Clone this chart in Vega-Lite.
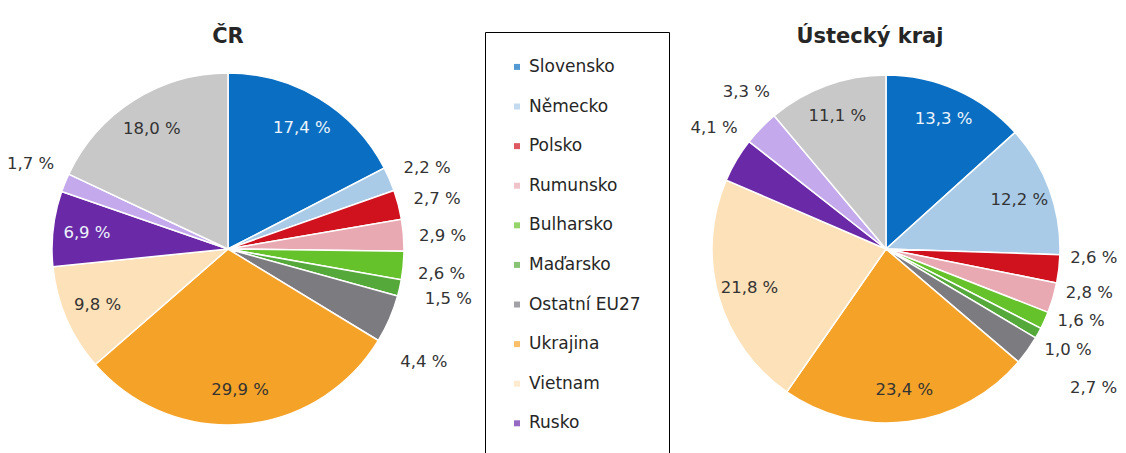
{
  "$schema": "https://vega.github.io/schema/vega-lite/v6.json",
  "background": "white",
  "padding": {"top": 8, "left": 0, "right": 0, "bottom": 0},
  "autosize": {"type": "pad"},
  "config": {"view": {"stroke": null}, "font": "DejaVu Sans"},
  "datasets": {
    "podily": [
      {"region": "ČR", "zeme": "Slovensko", "poradi": 1, "podil": 17.4},
      {"region": "ČR", "zeme": "Německo", "poradi": 2, "podil": 2.2},
      {"region": "ČR", "zeme": "Polsko", "poradi": 3, "podil": 2.7},
      {"region": "ČR", "zeme": "Rumunsko", "poradi": 4, "podil": 2.9},
      {"region": "ČR", "zeme": "Bulharsko", "poradi": 5, "podil": 2.6},
      {"region": "ČR", "zeme": "Maďarsko", "poradi": 6, "podil": 1.5},
      {"region": "ČR", "zeme": "Ostatní EU27", "poradi": 7, "podil": 4.4},
      {"region": "ČR", "zeme": "Ukrajina", "poradi": 8, "podil": 29.9},
      {"region": "ČR", "zeme": "Vietnam", "poradi": 9, "podil": 9.8},
      {"region": "ČR", "zeme": "Rusko", "poradi": 10, "podil": 6.9},
      {"region": "ČR", "zeme": "Mongolsko", "poradi": 11, "podil": 1.7},
      {"region": "ČR", "zeme": "Ostatní", "poradi": 12, "podil": 18.0},
      {"region": "Ústecký kraj", "zeme": "Slovensko", "poradi": 1, "podil": 13.3},
      {"region": "Ústecký kraj", "zeme": "Německo", "poradi": 2, "podil": 12.2},
      {"region": "Ústecký kraj", "zeme": "Polsko", "poradi": 3, "podil": 2.6},
      {"region": "Ústecký kraj", "zeme": "Rumunsko", "poradi": 4, "podil": 2.8},
      {"region": "Ústecký kraj", "zeme": "Bulharsko", "poradi": 5, "podil": 1.6},
      {"region": "Ústecký kraj", "zeme": "Maďarsko", "poradi": 6, "podil": 1.0},
      {"region": "Ústecký kraj", "zeme": "Ostatní EU27", "poradi": 7, "podil": 2.7},
      {"region": "Ústecký kraj", "zeme": "Ukrajina", "poradi": 8, "podil": 23.4},
      {"region": "Ústecký kraj", "zeme": "Vietnam", "poradi": 9, "podil": 21.8},
      {"region": "Ústecký kraj", "zeme": "Rusko", "poradi": 10, "podil": 4.1},
      {"region": "Ústecký kraj", "zeme": "Mongolsko", "poradi": 11, "podil": 3.3},
      {"region": "Ústecký kraj", "zeme": "Ostatní", "poradi": 12, "podil": 11.1}
    ]
  },
  "data": {"name": "podily"},
  "bounds": "flush",
  "spacing": 29,
  "hconcat": [
    {
      "width": 456,
      "height": 434,
      "title": {"text": "ČR", "fontSize": 21, "fontWeight": "bold", "font": "DejaVu Sans", "color": "#262626", "offset": -15, "anchor": "middle", "frame": "group"},
      "transform": [
        {"filter": "datum.region === 'ČR'"},
        {"calculate": "replace(format(datum.podil, '.1f'), '.', ',') + ' %'", "as": "popisek"}
      ],
      "encoding": {
        "theta": {"field": "podil", "type": "quantitative", "stack": true},
        "order": {"field": "poradi", "type": "quantitative"},
        "color": {
          "field": "zeme", "type": "nominal", "legend": null,
          "scale": {
            "domain": ["Slovensko", "Německo", "Polsko", "Rumunsko", "Bulharsko", "Maďarsko", "Ostatní EU27", "Ukrajina", "Vietnam", "Rusko", "Mongolsko", "Ostatní"],
            "range": ["#0a6fc2", "#a9cbe8", "#d0121f", "#e8a9b2", "#66c22a", "#55a83a", "#7b7b80", "#f5a328", "#fde1b9", "#6a2aa8", "#c4a9ec", "#c8c8c8"]
          }
        }
      },
      "layer": [
        {"mark": {"type": "arc", "outerRadius": 176, "stroke": "white", "strokeWidth": 1.5}},
        {
          "mark": {"type": "text", "radius": 142, "fontSize": 16.5, "font": "DejaVu Sans"},
          "encoding": {
            "text": {"condition": {"test": "datum.podil >= 5", "field": "popisek", "type": "nominal"}, "value": ""},
            "color": {"condition": {"test": "datum.zeme === 'Slovensko' || datum.zeme === 'Rusko'", "value": "#eef4fb"}, "value": "#333333"}
          }
        },
        {
          "mark": {"type": "text", "radius": 215, "thetaOffset": 0.02, "fontSize": 16.5, "font": "DejaVu Sans"},
          "encoding": {
            "text": {"condition": {"test": "datum.podil < 5 && datum.zeme !== 'Maďarsko' && datum.zeme !== 'Ostatní EU27'", "field": "popisek", "type": "nominal"}, "value": ""},
            "color": {"value": "#333333"}
          }
        },
        {
          "mark": {"type": "text", "radius": 226, "fontSize": 16.5, "font": "DejaVu Sans"},
          "encoding": {
            "text": {"condition": {"test": "datum.zeme === 'Maďarsko'", "field": "popisek", "type": "nominal"}, "value": ""},
            "color": {"value": "#333333"}
          }
        },
        {
          "mark": {"type": "text", "radius": 226, "thetaOffset": 0.115, "fontSize": 16.5, "font": "DejaVu Sans"},
          "encoding": {
            "text": {"condition": {"test": "datum.zeme === 'Ostatní EU27'", "field": "popisek", "type": "nominal"}, "value": ""},
            "color": {"value": "#333333"}
          }
        }
      ]
    },
    {
      "width": 184,
      "height": 434,
      "view": {"stroke": "#000000", "strokeWidth": 1},
      "transform": [{"filter": "datum.region === 'ČR' && datum.poradi <= 10"}],
      "encoding": {
        "y": {
          "field": "zeme", "type": "nominal", "axis": null,
          "sort": {"field": "poradi", "op": "min", "order": "ascending"},
          "scale": {"type": "point", "padding": 0.98, "align": 0.45}
        }
      },
      "layer": [
        {
          "mark": {"type": "square", "size": 36},
          "encoding": {
            "x": {"datum": 17.4, "type": "quantitative", "scale": {"domain": [0, 100]}, "axis": null},
            "color": {
              "field": "zeme", "type": "nominal", "legend": null,
              "scale": {
                "domain": ["Slovensko", "Německo", "Polsko", "Rumunsko", "Bulharsko", "Maďarsko", "Ostatní EU27", "Ukrajina", "Vietnam", "Rusko", "Mongolsko", "Ostatní"],
                "range": ["#0a6fc2", "#a9cbe8", "#d0121f", "#e8a9b2", "#66c22a", "#55a83a", "#7b7b80", "#f5a328", "#fde1b9", "#6a2aa8", "#c4a9ec", "#c8c8c8"]
              }
            }
          }
        },
        {
          "mark": {"type": "text", "align": "left", "baseline": "middle", "fontSize": 17, "font": "DejaVu Sans", "color": "#262626"},
          "encoding": {
            "x": {"datum": 23.9, "type": "quantitative"},
            "text": {"field": "zeme", "type": "nominal"}
          }
        }
      ]
    },
    {
      "width": 376,
      "height": 434,
      "title": {"text": "Ústecký  kraj", "fontSize": 21, "fontWeight": "bold", "font": "DejaVu Sans", "color": "#262626", "offset": -38, "anchor": "middle", "dx": -16, "frame": "group"},
      "transform": [
        {"filter": "datum.region === 'Ústecký kraj'"},
        {"calculate": "replace(format(datum.podil, '.1f'), '.', ',') + ' %'", "as": "popisek"}
      ],
      "encoding": {
        "theta": {"field": "podil", "type": "quantitative", "stack": true},
        "order": {"field": "poradi", "type": "quantitative"},
        "color": {
          "field": "zeme", "type": "nominal", "legend": null,
          "scale": {
            "domain": ["Slovensko", "Německo", "Polsko", "Rumunsko", "Bulharsko", "Maďarsko", "Ostatní EU27", "Ukrajina", "Vietnam", "Rusko", "Mongolsko", "Ostatní"],
            "range": ["#0a6fc2", "#a9cbe8", "#d0121f", "#e8a9b2", "#66c22a", "#55a83a", "#7b7b80", "#f5a328", "#fde1b9", "#6a2aa8", "#c4a9ec", "#c8c8c8"]
          }
        }
      },
      "layer": [
        {"mark": {"type": "arc", "outerRadius": 174, "stroke": "white", "strokeWidth": 1.5}},
        {
          "mark": {"type": "text", "radius": 142, "fontSize": 16.5, "font": "DejaVu Sans"},
          "encoding": {
            "text": {"condition": {"test": "datum.podil >= 5", "field": "popisek", "type": "nominal"}, "value": ""},
            "color": {"condition": {"test": "datum.zeme === 'Slovensko' || datum.zeme === 'Rusko'", "value": "#eef4fb"}, "value": "#333333"}
          }
        },
        {
          "mark": {"type": "text", "radius": 208, "thetaOffset": -0.07, "fontSize": 16.5, "font": "DejaVu Sans"},
          "encoding": {
            "text": {"condition": {"test": "datum.zeme === 'Polsko' || datum.zeme === 'Rumunsko' || datum.zeme === 'Bulharsko'", "field": "popisek", "type": "nominal"}, "value": ""},
            "color": {"value": "#333333"}
          }
        },
        {
          "mark": {"type": "text", "radius": 208, "fontSize": 16.5, "font": "DejaVu Sans"},
          "encoding": {
            "text": {"condition": {"test": "datum.zeme === 'Maďarsko'", "field": "popisek", "type": "nominal"}, "value": ""},
            "color": {"value": "#333333"}
          }
        },
        {
          "mark": {"type": "text", "radius": 250, "thetaOffset": -0.03, "fontSize": 16.5, "font": "DejaVu Sans"},
          "encoding": {
            "text": {"condition": {"test": "datum.zeme === 'Ostatní EU27'", "field": "popisek", "type": "nominal"}, "value": ""},
            "color": {"value": "#333333"}
          }
        },
        {
          "mark": {"type": "text", "radius": 210, "thetaOffset": 0.075, "fontSize": 16.5, "font": "DejaVu Sans"},
          "encoding": {
            "text": {"condition": {"test": "datum.zeme === 'Rusko' || datum.zeme === 'Mongolsko'", "field": "popisek", "type": "nominal"}, "value": ""},
            "color": {"value": "#333333"}
          }
        }
      ]
    }
  ]
}
